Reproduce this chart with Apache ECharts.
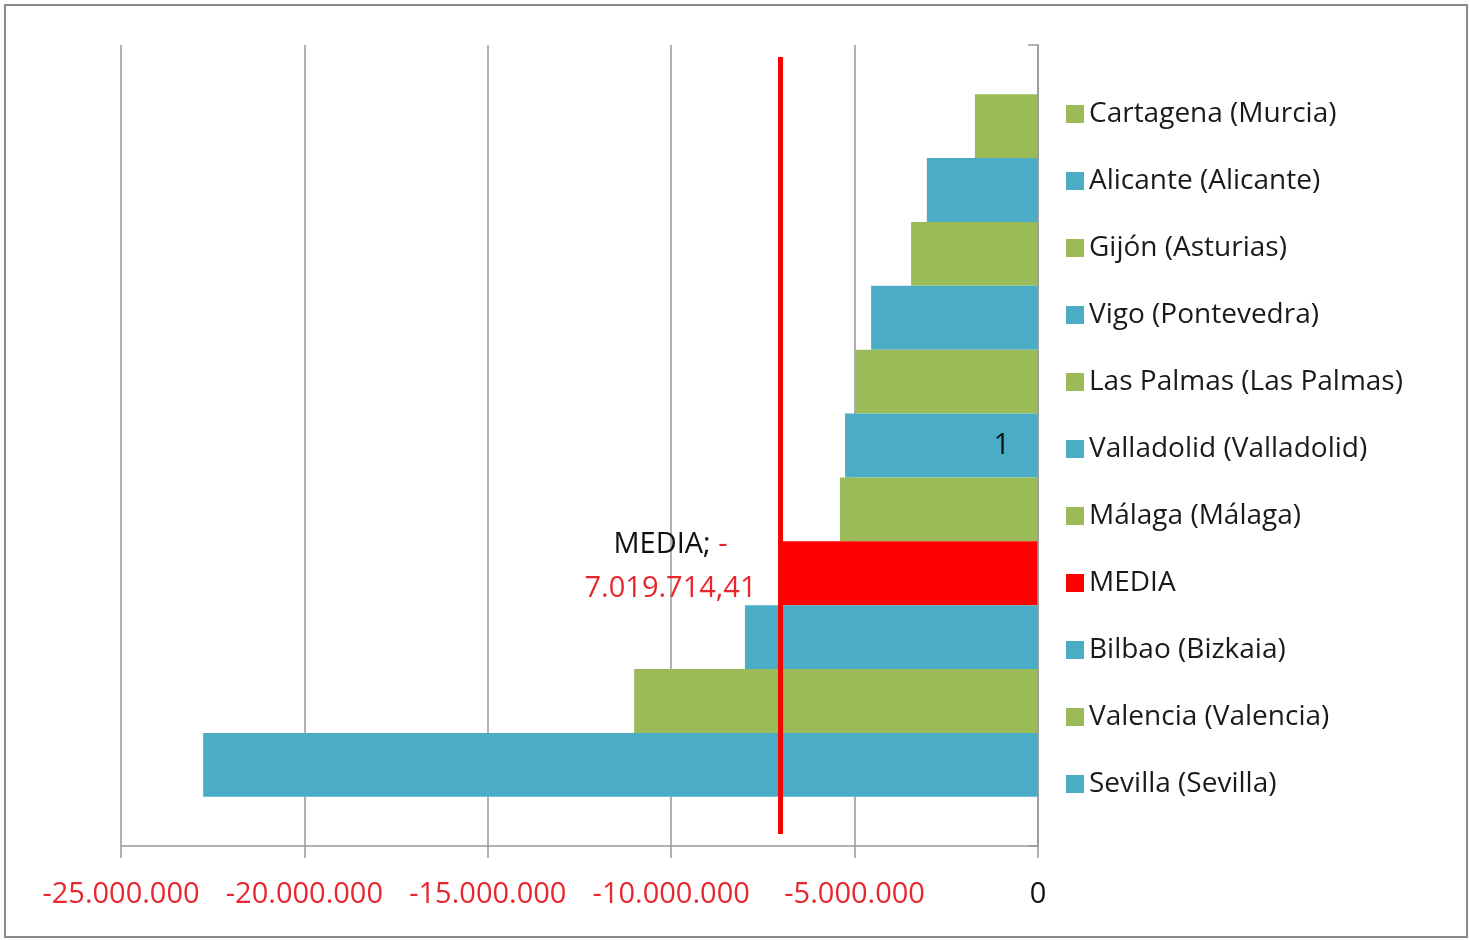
<!DOCTYPE html>
<html>
<head>
<meta charset="utf-8">
<script src="https://cdn.jsdelivr.net/npm/echarts@6/dist/echarts.min.js"></script>
<style>
html,body{margin:0;padding:0;background:#fff;}
#chart{width:1470px;height:940px;}
</style>
</head>
<body>
<div id="chart"></div>
<script>
// Series names (top to bottom in the chart, same as legend order)
const seriesNames = ['Cartagena (Murcia)', 'Alicante (Alicante)', 'Gijón (Asturias)', 'Vigo (Pontevedra)', 'Las Palmas (Las Palmas)', 'Valladolid (Valladolid)', 'Málaga (Málaga)', 'MEDIA', 'Bilbao (Bizkaia)', 'Valencia (Valencia)', 'Sevilla (Sevilla)'];
const seriesValues = [-1720000, -3030000, -3460000, -4550000, -4990000, -5260000, -5400000, -7019714.41, -7990000, -11010000, -22760000];
const seriesColors = ['#9BBB59', '#4BACC6', '#9BBB59', '#4BACC6', '#9BBB59', '#4BACC6', '#9BBB59', '#FF0000', '#4BACC6', '#9BBB59', '#4BACC6'];
const categories = ['1'];
const mediaValue = -7019714.41;
const mediaLineSpan = [0.015, 0.985];
const xTicks = { min: -25000000, max: 0, interval: 5000000 };

const FONT = 'Open Sans';
function fmtThousands(v) {
  const neg = v < 0;
  let s = Math.abs(Math.round(v)).toString();
  s = s.replace(/\B(?=(\d{3})+(?!\d))/g, '.');
  return (neg ? '-' : '') + s;
}

const chart = echarts.init(document.getElementById('chart'), null, { renderer: 'canvas' });

const series = seriesNames.map((name, i) => {
  const s = {
    name: name,
    type: 'bar',
    yAxisIndex: 0,
    data: [seriesValues[i]],
    itemStyle: { color: seriesColors[i] },
    barGap: '0%',
    barCategoryGap: '12.3%',
    emphasis: { disabled: true }
  };
  if (name === 'MEDIA') {
    s.label = {
      show: true,
      position: 'left',
      distance: 110,
      align: 'center',
      offset: [0, -6],
      fontFamily: FONT,
      formatter: function (p) {
        const v = Math.abs(p.value);
        const intPart = fmtThousands(Math.trunc(v));
        const dec = (v - Math.trunc(v)).toFixed(2).slice(2);
        return '{k|MEDIA;}{r| -}\n{r|' + intPart + ',' + dec + '}';
      },
      rich: {
        k: { color: '#111', fontSize: 29, fontFamily: FONT, lineHeight: 44 },
        r: { color: '#E8262E', fontSize: 29, fontFamily: FONT, lineHeight: 44 }
      }
    };
  }
  return s;
});

series.push({
  name: 'mediaLine',
  type: 'line',
  yAxisIndex: 1,
  data: [[mediaValue, mediaLineSpan[0]], [mediaValue, mediaLineSpan[1]]],
  showSymbol: false,
  symbol: 'none',
  lineStyle: { color: '#FF0000', width: 5 },
  z: 10,
  silent: true
});

chart.setOption({
  animation: false,
  backgroundColor: '#fff',
  textStyle: { fontFamily: FONT },
  graphic: [{
    type: 'rect',
    shape: { x: 5, y: 5, width: 1462, height: 932 },
    style: { fill: 'none', stroke: '#8a8a8a', lineWidth: 2 },
    silent: true
  }],
  grid: { left: 121, right: 432, top: 45, bottom: 94, containLabel: false },
  legend: {
    orient: 'vertical',
    left: 1061,
    top: 89,
    data: seriesNames.slice(),
    itemWidth: 18,
    itemHeight: 18,
    itemGap: 27,
    icon: 'rect',
    selectedMode: false,
    textStyle: { fontSize: 28, color: '#1a1a1a', fontFamily: FONT, lineHeight: 40, padding: [0, 0, 0, 0] }
  },
  xAxis: {
    type: 'value',
    min: xTicks.min,
    max: xTicks.max,
    interval: xTicks.interval,
    axisLine: { show: true, lineStyle: { color: '#999', width: 1.5 } },
    axisTick: { show: true, length: 12, lineStyle: { color: '#999', width: 1.5 } },
    splitLine: { show: true, lineStyle: { color: '#999', width: 1.5 } },
    axisLabel: {
      margin: 34,
      fontSize: 29,
      fontFamily: FONT,
      formatter: function (v) { return v === 0 ? '{k|0}' : '{r|' + fmtThousands(v) + '}'; },
      rich: {
        k: { color: '#111', fontSize: 29, fontFamily: FONT },
        r: { color: '#E8262E', fontSize: 29, fontFamily: FONT }
      }
    }
  },
  yAxis: [{
    type: 'category',
    data: categories,
    position: 'right',
    z: 20,
    axisLine: { show: true, lineStyle: { color: '#999', width: 1.5 } },
    axisTick: { show: true, inside: true, length: 10, lineStyle: { color: '#999', width: 1.5 } },
    axisLabel: { inside: true, margin: 28, fontSize: 29, color: '#111', fontFamily: FONT },
    splitLine: { show: false }
  }, {
    type: 'value',
    min: 0,
    max: 1,
    show: false
  }],
  series: series
});
</script>
</body>
</html>
